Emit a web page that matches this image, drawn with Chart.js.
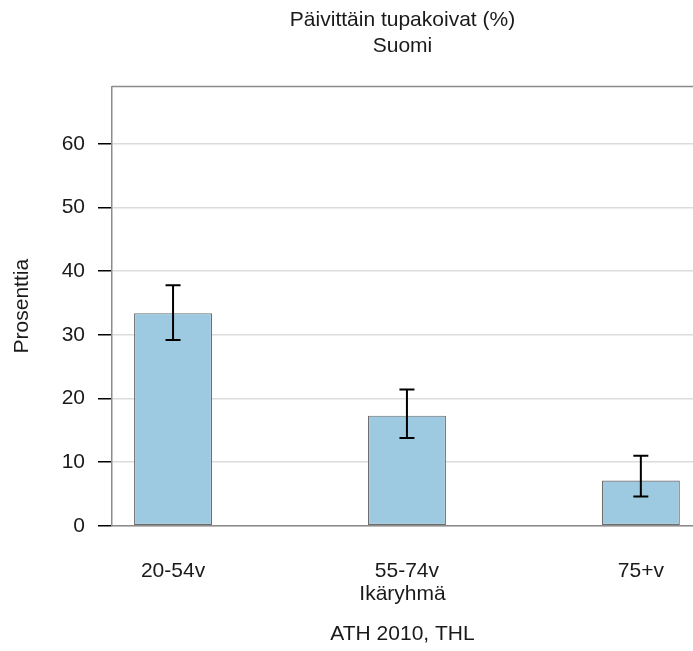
<!DOCTYPE html>
<html>
<head>
<meta charset="utf-8">
<script src="https://cdn.jsdelivr.net/npm/chart.js@4/dist/chart.umd.min.js"></script>
<style>
  body { margin: 0; background: #fff; }
  #wrap { width: 693px; height: 651px; }
</style>
</head>
<body>
<div id="wrap"><canvas id="grafica"></canvas></div>
<script>
// arvot luettu kuvasta
const ikaryhmat = ["20-54v", "55-74v", "75+v"];
const osuudet = [33.4, 17.3, 7.1];
const alaraja = [29.2, 13.8, 4.6];
const ylaraja = [37.8, 21.4, 11.0];
const yTicks = [0, 10, 20, 30, 40, 50, 60];

const fontti = "'Liberation Sans', Arial, sans-serif";
const tekstiVari = "#1a1a1a";

// virhepalkit ja kehyksen ylareuna
const virhePalkit = {
    id: "virhePalkit",
    afterDatasetsDraw(chart) {
        const ctx = chart.ctx;
        const x = chart.scales.x;
        const y = chart.scales.y;
        ctx.save();
        ctx.strokeStyle = "#000";
        ctx.lineWidth = 2;
        for (let i = 0; i < osuudet.length; i++) {
            const px = x.getPixelForValue(i);
            const y1 = y.getPixelForValue(alaraja[i]);
            const y2 = y.getPixelForValue(ylaraja[i]);
            ctx.beginPath();
            ctx.moveTo(px, y1);
            ctx.lineTo(px, y2);
            ctx.moveTo(px - 7.5, y1);
            ctx.lineTo(px + 7.5, y1);
            ctx.moveTo(px - 7.5, y2);
            ctx.lineTo(px + 7.5, y2);
            ctx.stroke();
        }
        const a = chart.chartArea;
        ctx.strokeStyle = "#8c8c8c";
        ctx.lineWidth = 1.5;
        ctx.beginPath();
        ctx.moveTo(a.left, a.top);
        ctx.lineTo(a.right, a.top);
        ctx.stroke();
        ctx.restore();
    }
};

const data = {
    datasets: [{
        label: "Päivittäin tupakoivat (%)",
        data: ikaryhmat.map((g, i) => ({ x: i, y: osuudet[i] })),
        backgroundColor: "#9ecae1",
        borderColor: "#6e6e6e",
        borderWidth: 1.2,
        borderSkipped: false,
        barPercentage: 0.3335,
        categoryPercentage: 1
    }]
};

const config = {
    type: "bar",
    data: data,
    options: {
        responsive: true,
        maintainAspectRatio: false,
        animation: false,
        layout: { padding: 0 },
        plugins: {
            legend: { display: false },
            tooltip: { enabled: false },
            title: {
                display: true,
                fullSize: false,
                text: ["Päivittäin tupakoivat (%)", "Suomi"],
                color: tekstiVari,
                font: { family: fontti, size: 21, weight: "normal", lineHeight: 1.25 },
                padding: { top: 7, bottom: 27 }
            },
            subtitle: {
                display: true,
                fullSize: false,
                position: "bottom",
                text: "ATH 2010, THL",
                color: tekstiVari,
                font: { family: fontti, size: 21, weight: "normal", lineHeight: 1.2 },
                padding: { top: 0, bottom: 4 }
            }
        },
        scales: {
            x: {
                type: "linear",
                offset: false,
                min: -0.261,
                max: 2.223,
                afterBuildTicks: (s) => { s.ticks = ikaryhmat.map((g, i) => ({ value: i })); },
                afterFit: (s) => {
                    s.height = 96;
                    s.paddingLeft = 0;
                    s.paddingRight = 0;
                },
                grid: { display: false, drawTicks: false },
                border: { display: true, color: "#8c8c8c", width: 1.5 },
                ticks: {
                    padding: 33,
                    color: tekstiVari,
                    font: { family: fontti, size: 21 },
                    callback: (v) => ikaryhmat[v]
                },
                title: {
                    display: true,
                    text: "Ikäryhmä",
                    color: tekstiVari,
                    font: { family: fontti, size: 21, lineHeight: 1.2 },
                    padding: { top: 0, bottom: 15 }
                }
            },
            y: {
                min: 0,
                max: 69,
                afterBuildTicks: (s) => { s.ticks = yTicks.map(v => ({ value: v })); },
                afterFit: (s) => { s.width = 112; },
                grid: { color: "#dcdcdc", lineWidth: 1.5, tickColor: "#000", tickLength: 14 },
                border: { display: true, color: "#8c8c8c", width: 1.5 },
                ticks: {
                    padding: 13,
                    color: tekstiVari,
                    font: { family: fontti, size: 21 }
                },
                title: {
                    display: true,
                    text: "Prosenttia",
                    color: tekstiVari,
                    font: { family: fontti, size: 21, lineHeight: 1.2 },
                    padding: { top: 10, bottom: 0 }
                }
            }
        }
    },
    plugins: [virhePalkit]
};

new Chart(document.getElementById("grafica"), config);
</script>
</body>
</html>
